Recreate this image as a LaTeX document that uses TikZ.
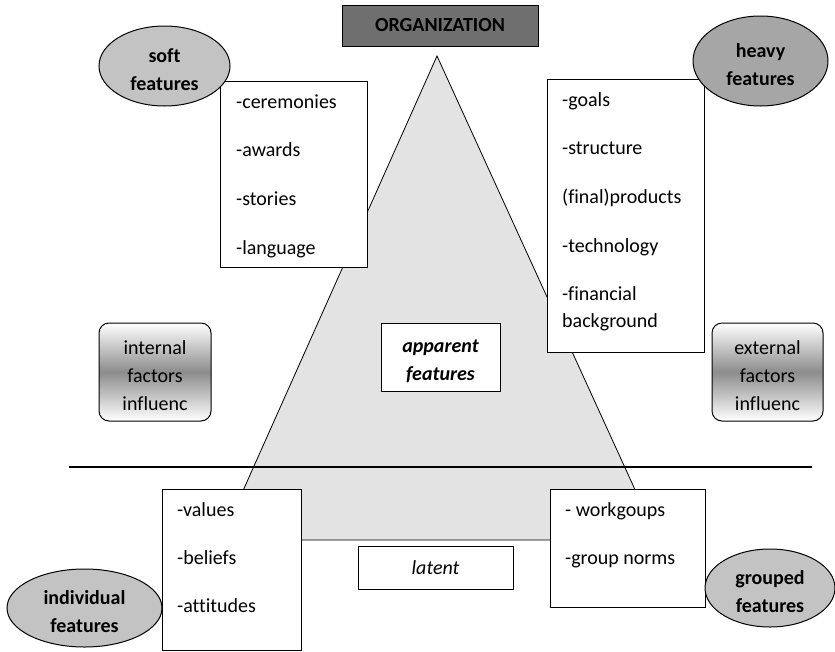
\documentclass[tikz,border=0pt]{standalone}
\usepackage{fontspec}
\setmainfont{Carlito}[Ligatures=NoCommon]
\usetikzlibrary{shapes.geometric}
\definecolor{orggray}{HTML}{6F6F6F}
\definecolor{heavygray}{HTML}{A6A6A6}
\definecolor{softgray}{HTML}{C3C3C3}
\definecolor{trigray}{HTML}{E3E3E3}
\newcommand{\toplift}{\rule{0pt}{22pt}}
\tikzset{
  listbox/.style={draw, fill=white, line width=1pt, inner sep=0pt},
  items/.style={anchor=base west, align=flush left, text width=140pt, inner sep=0pt,
    font=\fontsize{20}{48.7}\selectfont},
  oval/.style={ellipse, draw, line width=1pt, inner sep=0pt, align=center,
    font=\bfseries\fontsize{20}{28}\selectfont},
  factorbox/.style={draw, line width=1pt, rounded corners=10pt, top color=white,
    bottom color=white, middle color=black!45, inner sep=0pt, align=center,
    font=\fontsize{20}{28}\selectfont}
}

\begin{document}
\begin{tikzpicture}[x=1pt, y=-1pt]
    \useasboundingbox (0,0) rectangle (835,651);

    % the pyramid and the visible/latent split
    \coordinate (apex) at (437,56);
    \coordinate (base-l) at (221,540);
    \coordinate (base-r) at (658,540);
    \filldraw[fill=trigray, line width=0.8pt] (apex) -- (base-l) -- (base-r) -- cycle;

    \coordinate (split-l) at (69,467);
    \coordinate (split-r) at (812,467);
    \draw[line width=2.5pt] (split-l) -- (split-r);

    \node[draw, fill=orggray, line width=1pt, minimum width=196pt, minimum height=41pt,
      font=\bfseries\fontsize{20}{24}\selectfont] (org) at (440,25.5) {ORGANIZATION};

    % lists
    \node[listbox, minimum width=147pt, minimum height=186pt] (ceremonies) at (293.5,174) {};
    \node[items] (ceremonies-list) at (236,108)
      {-ceremonies\\-awards\\-stories\\-language};

    \node[listbox, minimum width=157pt, minimum height=273pt] (goals) at (625.5,215.5) {};
    \node[items] (goals-list) at (562,106)
      {-goals\\-structure\\(final)products\\-technology\\-financial\\[-21.7pt]background};

    \node[listbox, minimum width=139pt, minimum height=161pt] (values) at (231.5,569.5) {};
    \node[items] (values-list) at (177,516)
      {-values\\[-0.7pt]-beliefs\\[-0.7pt]-attitudes};

    \node[listbox, minimum width=155pt, minimum height=118pt] (workgroups) at (627.5,548) {};
    \node[items] (workgroups-list) at (565,516)
      {- workgoups\\-group norms};

    % middle labels
    \node[listbox, minimum width=119pt, minimum height=68pt, align=center,
      font=\bfseries\itshape\fontsize{20}{28}\selectfont] (apparent) at (440.5,357)
      {\toplift apparent\\features};
    \node[listbox, minimum width=155pt, minimum height=43pt,
      font=\itshape\fontsize{20}{24}\selectfont] (latent) at (435.5,567.5) {latent};

    % influences
    \node[factorbox, minimum width=112pt, minimum height=98pt] (internal) at (155,372)
      {\toplift internal\\factors\\influenc};
    \node[factorbox, minimum width=111pt, minimum height=98pt] (external) at (767.5,372)
      {\toplift external\\factors\\influenc};

    % feature groups
    \node[oval, fill=softgray, minimum width=131pt, minimum height=80pt] (soft)
      at (164.5,66) {\toplift soft\\features};
    \node[oval, fill=heavygray, minimum width=135pt, minimum height=90pt] (heavy)
      at (760.5,61) {\toplift heavy\\features};
    \node[oval, fill=softgray, minimum width=155pt, minimum height=78pt] (individual)
      at (84.5,608) {\toplift individual\\features};
    \node[oval, fill=softgray, minimum width=130pt, minimum height=78pt] (grouped)
      at (770,588) {\toplift grouped\\features};
\end{tikzpicture}
\end{document}
